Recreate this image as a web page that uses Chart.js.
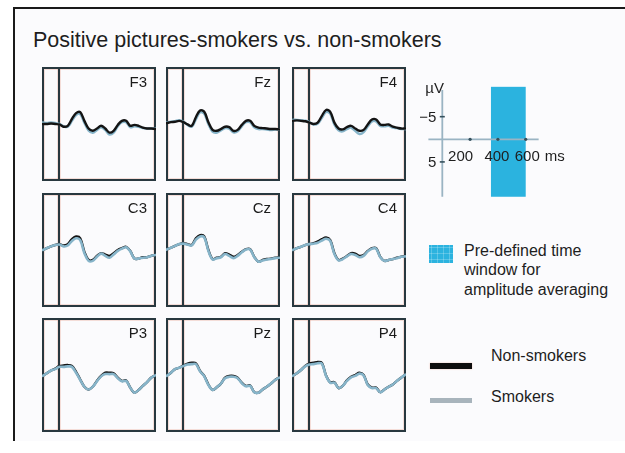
<!DOCTYPE html>
<html>
<head>
<meta charset="utf-8">
<script src="https://cdn.jsdelivr.net/npm/chart.js@4.4.1/dist/chart.umd.min.js"></script>
<style>
  html, body { margin: 0; padding: 0; background: #fff; }
  body { width: 625px; height: 453px; position: relative; overflow: hidden;
         font-family: "Liberation Sans", Arial, sans-serif; color: #1e1e1e; }
  #frame { position: absolute; left: 13px; top: 7px; width: 640px; height: 432px;
           border-top: 2px solid #1a1a1a; border-left: 2px solid #1a1a1a; background: #fbfbfd; }
  .t { position: absolute; white-space: nowrap; }
  canvas { position: absolute; }
  #title { left: 33px; top: 28px; font-size: 21.5px; line-height: 24px; }
  #winKey { position: absolute; left: 429px; top: 245px; width: 24px; height: 18px; background-color: #2cb3df;
            background-image: linear-gradient(rgba(255,255,255,0.22) 1px, transparent 1px),
                              linear-gradient(90deg, rgba(255,255,255,0.22) 1px, transparent 1px);
            background-size: 6px 6px; background-position: 2px 2px; }
  #winText { left: 464px; top: 241px; font-size: 16px; line-height: 19.4px; }
  .key { position: absolute; left: 430px; width: 42px; }
  #keyNon { top: 363px; height: 6px; background: #0d0d0d; box-shadow: 0 0 1.5px rgba(225,130,100,0.7); }
  #keySmk { top: 398px; height: 5px; background: #a8b4bc; }
  #txtNon { left: 491px; top: 347px; font-size: 16px; line-height: 18px; }
  #txtSmk { left: 491px; top: 388px; font-size: 16px; line-height: 18px; }
</style>
</head>
<body>
<div id="frame"></div>
<div class="t" id="title">Positive pictures-smokers vs. non-smokers</div>
<div id="winKey"></div>
<div class="t" id="winText">Pre-defined time<br>window for<br>amplitude averaging</div>
<div class="key" id="keyNon"></div>
<div class="t" id="txtNon">Non-smokers</div>
<div class="key" id="keySmk"></div>
<div class="t" id="txtSmk">Smokers</div>

<script>
// Sample times (ms, relative to picture onset)
const times = [-120, -90, -60, -30, 0, 30, 60, 90, 120, 150, 180, 210, 240, 270,
               300, 330, 360, 390, 420, 450, 480, 510, 540, 570, 600, 630, 660, 690];

// Grand-average ERP amplitudes (µV) per electrode
const f3NonSmokers = [0, 0, -0.1, 0, 0.1, 0.6, 0.4, -1.1, -2.4, -2.6, -0.7, 1.0, 1.5, 1.0, 0.4, 1.0, 1.9, 1.5, 0.2, -0.7, -0.7, 0.4, 0.2, 0.4, 0.8, 1.0, 1.0, 1.1];
const f3Smokers    = [-0.3, -0.2, -0.3, -0.2, 0, 0.5, 0.6, -0.7, -2.0, -2.2, -0.3, 1.4, 1.9, 1.3, 0.7, 1.3, 2.3, 1.9, 0.5, -0.4, -0.4, 0.7, 0.5, 0.6, 0.9, 1.0, 1.0, 1.0];
const fzNonSmokers = [-0.2, -0.4, -0.5, -0.7, -0.4, 0.1, 0.4, -1.5, -3.0, -2.7, -0.4, 1.3, 1.5, 1.1, 0.6, 0.7, 1.5, 1.3, 0.2, -0.7, -0.7, 0.4, 0.8, 0.9, 1.0, 1.1, 1.1, 1.2];
const fzSmokers    = [-0.3, -0.5, -0.6, -0.8, -0.5, 0.2, 0.6, -1.1, -2.6, -2.3, 0, 1.7, 1.9, 1.4, 0.9, 1.0, 1.8, 1.6, 0.5, -0.4, -0.4, 0.7, 1.1, 1.1, 1.2, 1.3, 1.2, 1.2];
const f4NonSmokers = [-0.7, -0.8, -0.7, -0.6, -0.3, 0, -0.3, -1.8, -3.1, -2.7, -0.3, 1.0, 1.2, 0.7, 0.4, 1.0, 1.5, 1.3, 0.1, -1.0, -1.0, 0.1, 0.2, 0.1, 0.6, 0.8, 1.0, 1.0];
const f4Smokers    = [-0.9, -0.9, -0.8, -0.7, -0.4, 0.1, -0.1, -1.4, -2.7, -2.3, 0.1, 1.4, 1.6, 1.1, 0.8, 1.5, 2.2, 1.8, 0.5, -0.6, -0.6, 0.4, 0.5, 0.4, 0.8, 0.9, 1.1, 1.1];
const c3NonSmokers = [0, -0.4, -0.8, -1.1, -1.3, -1.0, -1.3, -2.4, -3.0, -2.6, 0.4, 2.2, 2.2, 1.3, 0.7, 1.0, 1.3, 0.7, 0, -0.4, -0.7, 0.2, 1.9, 1.9, 1.6, 1.6, 1.3, 1.1];
const c3Smokers    = [0, -0.4, -0.8, -1.1, -1.2, -0.8, -1.0, -2.0, -2.6, -2.2, 0.7, 2.4, 2.4, 1.5, 0.8, 1.3, 1.7, 1.0, 0.2, -0.3, -0.6, 0.3, 1.9, 1.9, 1.7, 1.6, 1.3, 1.1];
const czNonSmokers = [-0.1, -0.5, -0.9, -1.3, -1.5, -1.3, -1.1, -2.6, -3.3, -3.0, 0, 2.0, 1.7, 1.5, 0.7, 1.0, 1.5, 1.1, 0.4, -0.2, -0.2, 1.5, 2.6, 2.2, 2.0, 1.9, 1.7, 1.6];
const czSmokers    = [-0.1, -0.5, -0.9, -1.3, -1.4, -1.2, -1.0, -2.3, -3.0, -2.8, 0.2, 2.1, 1.8, 1.6, 0.9, 1.3, 1.8, 1.3, 0.5, -0.1, -0.1, 1.6, 2.6, 2.3, 2.1, 2.0, 1.8, 1.7];
const c4NonSmokers = [0, -0.4, -0.7, -1.1, -1.3, -1.5, -1.9, -2.4, -2.8, -2.2, 0.7, 2.2, 1.9, 1.3, 0.7, 0.8, 1.3, 1.1, 0.2, -0.4, -0.4, 1.5, 2.4, 2.2, 2.0, 1.7, 1.5, 1.3];
const c4Smokers    = [0, -0.4, -0.7, -1.1, -1.3, -1.4, -1.6, -2.1, -2.5, -2.0, 0.9, 2.3, 2.0, 1.4, 0.9, 1.1, 1.6, 1.3, 0.3, -0.3, -0.3, 1.6, 2.4, 2.2, 2.0, 1.8, 1.5, 1.4];
const p3NonSmokers = [0.2, -0.4, -1.0, -1.4, -2.0, -2.1, -2.2, -2.0, -0.7, 1.0, 2.6, 3.2, 2.6, 1.3, 0.2, -0.5, -0.5, -0.4, 0.6, 1.3, 1.2, 2.8, 3.9, 3.3, 2.4, 1.6, 0.6, 0.1];
const p3Smokers    = [0.2, -0.4, -1.0, -1.3, -1.8, -1.8, -1.9, -1.8, -0.5, 1.1, 2.6, 3.2, 2.6, 1.4, 0.3, -0.2, -0.2, -0.2, 0.7, 1.4, 1.3, 2.8, 3.9, 3.3, 2.4, 1.6, 0.6, 0.1];
const pzNonSmokers = [0.2, -0.5, -1.3, -1.6, -2.1, -2.5, -2.7, -2.6, -0.9, 0.2, 2.1, 3.3, 2.7, 1.9, 0.6, 0.2, 0.2, 0.6, 1.7, 2.4, 2.3, 3.8, 3.9, 3.2, 2.6, 1.9, 1.1, 0.6];
const pzSmokers    = [0.2, -0.5, -1.3, -1.6, -2.0, -2.3, -2.4, -2.4, -0.8, 0.3, 2.2, 3.3, 2.7, 1.9, 0.7, 0.4, 0.4, 0.7, 1.8, 2.5, 2.4, 3.8, 3.9, 3.2, 2.6, 1.9, 1.1, 0.6];
const p4NonSmokers = [0.2, -0.4, -1.1, -2.0, -2.5, -2.7, -2.9, -2.7, 0.1, 1.6, 1.6, 2.9, 2.4, 1.2, 0.4, 0, -0.5, 0, 2.1, 2.8, 2.8, 3.8, 3.2, 2.6, 2.1, 1.3, 0.6, -0.1];
const p4Smokers    = [0.2, -0.4, -1.1, -1.9, -2.3, -2.4, -2.6, -2.5, 0.2, 1.7, 1.7, 2.9, 2.4, 1.3, 0.5, 0.2, -0.3, 0.1, 2.2, 2.9, 2.9, 3.8, 3.2, 2.6, 2.1, 1.3, 0.6, -0.1];

const electrodes = ['F3', 'Fz', 'F4', 'C3', 'Cz', 'C4', 'P3', 'Pz', 'P4'];
const nonSmokerSeries = [f3NonSmokers, fzNonSmokers, f4NonSmokers, c3NonSmokers, czNonSmokers, c4NonSmokers, p3NonSmokers, pzNonSmokers, p4NonSmokers];
const smokerSeries = [f3Smokers, fzSmokers, f4Smokers, c3Smokers, czSmokers, c4Smokers, p3Smokers, pzSmokers, p4Smokers];

// Calibration key: time ticks, amplitude ticks, averaging window
const keyTimeTicks = [200, 400, 600];
const keyAmpTicks = [-5, 5];
const averagingWindow = [350, 600];

// Layout
const colLeft = [42, 166, 292];
const rowTop = [67, 193, 318];
const panelW = 114, panelH = 114;
const tMin = -125, tMax = 695;      // ms across a panel
const ampHalf = 12.6;                // µV from centre to edge
const pxPerMs = panelW / (tMax - tMin);
const pxPerUv = panelH / (2 * ampHalf);

const FONT = '"Liberation Sans", Arial, sans-serif';
const FRAME_COL = '#28383f';
const NON_COL = '#141414';
const SMK_COL = '#86b4c9';

function makeCanvas(left, top, w, h) {
  const c = document.createElement('canvas');
  c.width = w; c.height = h;
  c.style.left = left + 'px'; c.style.top = top + 'px';
  c.style.width = w + 'px'; c.style.height = h + 'px';
  document.body.appendChild(c);
  return c;
}

// Box, stimulus-onset line and electrode name for each panel
const panelFrame = {
  id: 'panelFrame',
  beforeDatasetsDraw(chart) {
    const { ctx, chartArea: a, scales: { x } } = chart;
    ctx.save();
    const x0 = Math.round(x.getPixelForValue(0));
    ctx.strokeStyle = 'rgba(232,165,145,0.35)';
    ctx.lineWidth = 4;
    ctx.strokeRect(a.left + 1, a.top + 1, a.width - 2, a.height - 2);
    ctx.beginPath(); ctx.moveTo(x0, a.top); ctx.lineTo(x0, a.bottom); ctx.stroke();
    ctx.strokeStyle = FRAME_COL;
    ctx.lineWidth = 2;
    ctx.strokeRect(a.left + 1, a.top + 1, a.width - 2, a.height - 2);
    ctx.beginPath(); ctx.moveTo(x0, a.top); ctx.lineTo(x0, a.bottom); ctx.stroke();
    ctx.restore();
  },
  afterDraw(chart, args, opts) {
    const { ctx, chartArea: a } = chart;
    ctx.save();
    ctx.fillStyle = '#1b1b1b';
    ctx.font = '15px ' + FONT;
    ctx.textAlign = 'right';
    ctx.textBaseline = 'alphabetic';
    ctx.fillText(opts.label, a.right - 9, a.top + 19.5);
    ctx.restore();
  }
};

electrodes.forEach((name, i) => {
  const row = Math.floor(i / 3), col = i % 3;
  const canvas = makeCanvas(colLeft[col], rowTop[row], panelW, panelH);
  const non = {
    label: 'Non-smokers',
    data: times.map((t, k) => ({ x: t, y: nonSmokerSeries[i][k] })),
    borderColor: NON_COL, borderWidth: 2.4
  };
  const smk = {
    label: 'Smokers',
    data: times.map((t, k) => ({ x: t, y: smokerSeries[i][k] })),
    borderColor: SMK_COL, borderWidth: 2.6
  };
  // first dataset is painted last (on top)
  const datasets = row === 0 ? [non, smk] : [smk, non];
  new Chart(canvas, {
    type: 'line',
    data: { datasets },
    options: {
      responsive: false, animation: false, devicePixelRatio: 1, events: [],
      layout: { padding: 0 },
      elements: { point: { radius: 0 }, line: { tension: 0.35, borderCapStyle: 'round', borderJoinStyle: 'round' } },
      scales: {
        x: { type: 'linear', min: tMin, max: tMax, display: false },
        y: { type: 'linear', min: -ampHalf, max: ampHalf, reverse: true, display: false }
      },
      plugins: { legend: { display: false }, tooltip: { enabled: false }, panelFrame: { label: name } }
    },
    plugins: [panelFrame]
  });
});

// Calibration key (time/amplitude axes with the averaging window)
const keyLeft = 420, keyTop = 78, keyW = 160, keyH = 130;
const keyOriginX = 442.3, keyOriginY = 139.3;
const keyCanvas = makeCanvas(keyLeft, keyTop, keyW, keyH);
const kxMin = -(keyOriginX - keyLeft) / pxPerMs;
const kxMax = kxMin + keyW / pxPerMs;
const kyMin = -(keyOriginY - keyTop) / pxPerUv;
const kyMax = kyMin + keyH / pxPerUv;

const keyAxes = {
  id: 'keyAxes',
  afterDraw(chart) {
    const { ctx, scales: { x, y } } = chart;
    const px = v => x.getPixelForValue(v), py = v => y.getPixelForValue(v);
    ctx.save();
    // averaging window
    ctx.fillStyle = '#2bb3df';
    const wTop = py(-11.6), wBot = py(12.7);
    ctx.fillRect(px(averagingWindow[0]), wTop, px(averagingWindow[1]) - px(averagingWindow[0]), wBot - wTop);
    // axes
    ctx.strokeStyle = '#9ab4c3';
    ctx.lineWidth = 1.8;
    ctx.beginPath();
    ctx.moveTo(px(0), py(-10.9)); ctx.lineTo(px(0), py(12.7));
    ctx.moveTo(px(-100), py(0)); ctx.lineTo(px(693), py(0));
    ctx.stroke();
    // tick marks
    ctx.fillStyle = '#35505c';
    keyTimeTicks.forEach(t => { ctx.beginPath(); ctx.arc(px(t), py(0), 1.6, 0, Math.PI * 2); ctx.fill(); });
    ctx.strokeStyle = '#35505c';
    ctx.lineWidth = 1.6;
    keyAmpTicks.forEach(v => { ctx.beginPath(); ctx.moveTo(px(0) - 2.5, py(v)); ctx.lineTo(px(0) + 2.5, py(v)); ctx.stroke(); });
    // labels
    ctx.fillStyle = '#1e1e1e';
    ctx.font = '15px ' + FONT;
    ctx.textBaseline = 'middle';
    ctx.textAlign = 'right';
    keyAmpTicks.forEach(v => ctx.fillText(v < 0 ? '\u2212' + Math.abs(v) : String(v), px(0) - 6, py(v) + 1));
    ctx.textAlign = 'left';
    ctx.textBaseline = 'alphabetic';
    ctx.fillText('\u00b5V', px(0) - 17, py(0) - 46);
    const labelShift = [-9.5, -1, 1.5];
    ctx.textAlign = 'center';
    keyTimeTicks.forEach((t, k) => ctx.fillText(String(t), px(t) + labelShift[k], py(0) + 21.5));
    ctx.textAlign = 'left';
    ctx.fillText('ms', px(600) + 19, py(0) + 21.5);
    ctx.restore();
  }
};

new Chart(keyCanvas, {
  type: 'line',
  data: { datasets: [] },
  options: {
    responsive: false, animation: false, devicePixelRatio: 1, events: [],
    layout: { padding: 0 },
    scales: {
      x: { type: 'linear', min: kxMin, max: kxMax, display: false },
      y: { type: 'linear', min: kyMin, max: kyMax, reverse: true, display: false }
    },
    plugins: { legend: { display: false }, tooltip: { enabled: false } }
  },
  plugins: [keyAxes]
});
</script>
</body>
</html>
